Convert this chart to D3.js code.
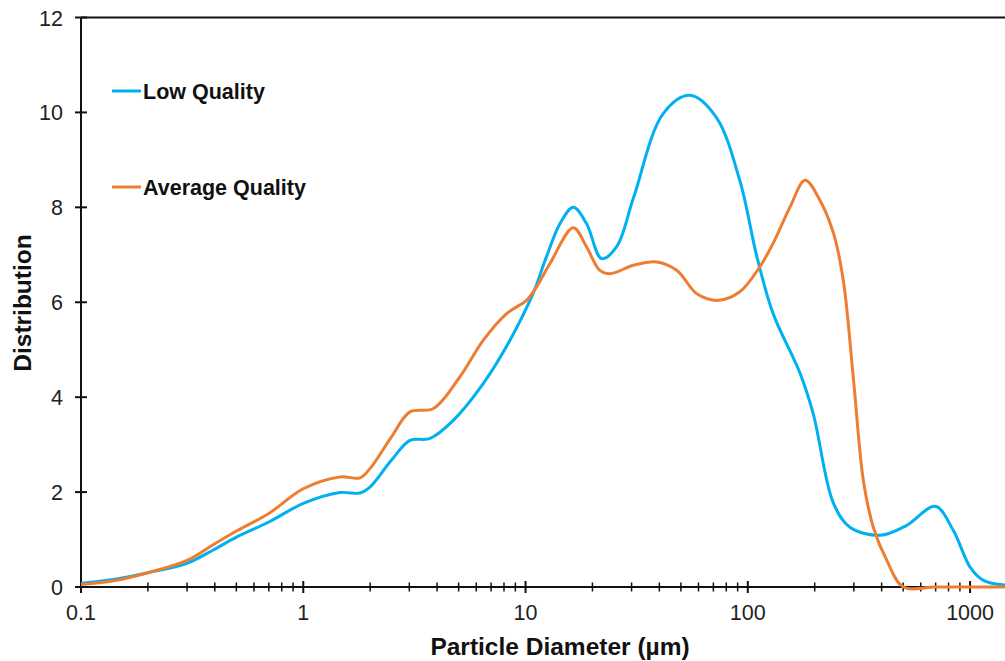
<!DOCTYPE html>
<html lang="en">
  <head>
    <meta charset="utf-8" />
    <title>Particle Size Distribution</title>
    <script src="https://d3js.org/d3.v7.min.js"></script>
    <style>
      body {
        margin: 0;
        background: #fff;
        font-family: "Liberation Sans", Arial, sans-serif;
      }

      .tick-label {
        font-size: 21.5px;
        fill: #222;
      }

      .axis-title {
        font-size: 24.5px;
        font-weight: bold;
        fill: #111;
      }

      .legend-label {
        font-size: 21.5px;
        font-weight: bold;
        fill: #111;
      }
    </style>
  </head>
  <body>
    <svg id="chart" width="1005" height="661"></svg>

    <script>
      // --------------------------------------------------
      // Data (particle diameter in µm, distribution)
      // --------------------------------------------------
      const lowSizes = [
        0.1, 0.14, 0.2, 0.3, 0.39, 0.5, 0.7, 1.0, 1.46, 1.8, 2.0, 2.49, 3.02,
        3.72, 4.73, 6.46, 8.51, 10.8, 12.4, 14.3, 16.4, 18.8, 22.0, 25.7, 30.6,
        41.7, 55, 72, 92, 110, 130, 172, 197, 243, 288, 394, 519, 697, 841,
        1000, 1148, 1436
      ];
      const lowValues = [
        0.08, 0.16, 0.3, 0.5, 0.77, 1.05, 1.37, 1.76, 1.99, 1.98, 2.11, 2.67,
        3.09, 3.13, 3.51, 4.29, 5.2, 6.18, 6.95, 7.66, 8.0, 7.66, 6.92, 7.17,
        8.2, 9.98, 10.36, 9.9, 8.57, 6.95, 5.76, 4.5, 3.65, 1.76, 1.26,
        1.09, 1.3, 1.7, 1.19, 0.42, 0.14, 0.04
      ];

      const avgSizes = [
        0.1, 0.14, 0.2, 0.3, 0.39, 0.5, 0.7, 1.0, 1.46, 1.8, 2.0, 2.49, 3.02,
        3.85, 5.07, 6.46, 8.22, 10.1, 11.2, 12.9, 16.4, 18.8, 21.6, 24, 30.6,
        39, 48, 59, 74, 92, 113, 130, 155, 181, 211, 243, 269, 299, 331, 367,
        422, 501, 700, 1000, 1436
      ];
      const avgValues = [
        0.05, 0.13, 0.3, 0.56, 0.88, 1.18, 1.55, 2.07, 2.32, 2.3, 2.5, 3.16,
        3.69, 3.76, 4.43, 5.2, 5.76, 6.04, 6.32, 6.82, 7.57, 7.17, 6.67, 6.6,
        6.78, 6.85, 6.67, 6.18, 6.04, 6.22, 6.74, 7.24, 8.01, 8.57, 8.15, 7.45,
        6.46, 4.36, 2.25, 1.26, 0.56, 0, 0, 0, 0
      ];

      const seriesNames = ["Low Quality", "Average Quality"];
      const seriesColors = ["#00B0F0", "#ED7D31"];

      const xMajorTicks = [0.1, 1, 10, 100, 1000];
      const xTickLabels = ["0.1", "1", "10", "100", "1000"];
      const yTicks = [0, 2, 4, 6, 8, 10, 12];

      // --------------------------------------------------
      // Scales
      // --------------------------------------------------
      const svg = d3.select("#chart");
      const plotLeft = 81,
        plotRight = 1005,
        plotTop = 17.5,
        plotBottom = 587;

      const x = d3.scaleLog().domain([0.1, 1436]).range([plotLeft, plotRight]);
      const y = d3.scaleLinear().domain([0, 12]).range([plotBottom, plotTop]);

      // minor ticks: 2..9 in each decade
      const xMinorTicks = [];
      [0.1, 1, 10, 100, 1000].forEach((d) => {
        for (let k = 2; k <= 9; k++) {
          const v = +(d * k).toPrecision(3);
          if (v < 1436) xMinorTicks.push(v);
        }
      });

      // --------------------------------------------------
      // Axes
      // --------------------------------------------------
      const axes = svg.append("g").attr("stroke", "#111").attr("stroke-width", 2);

      // top border
      axes.append("line")
        .attr("x1", plotLeft).attr("x2", plotRight)
        .attr("y1", plotTop).attr("y2", plotTop);
      // y axis
      axes.append("line")
        .attr("x1", plotLeft).attr("x2", plotLeft)
        .attr("y1", plotTop).attr("y2", plotBottom);
      // x axis
      axes.append("line")
        .attr("x1", plotLeft).attr("x2", plotRight)
        .attr("y1", plotBottom).attr("y2", plotBottom);

      axes.selectAll("line.ytick")
        .data(yTicks)
        .join("line")
        .attr("class", "ytick")
        .attr("x1", plotLeft - 6).attr("x2", plotLeft + 6)
        .attr("y1", (d) => y(d)).attr("y2", (d) => y(d));

      axes.selectAll("line.xmajor")
        .data(xMajorTicks)
        .join("line")
        .attr("class", "xmajor")
        .attr("x1", (d) => x(d)).attr("x2", (d) => x(d))
        .attr("y1", plotBottom - 6).attr("y2", plotBottom + 6);

      axes.selectAll("line.xminor")
        .data(xMinorTicks)
        .join("line")
        .attr("class", "xminor")
        .attr("stroke-width", 1.5)
        .attr("x1", (d) => x(d)).attr("x2", (d) => x(d))
        .attr("y1", plotBottom - 4.5).attr("y2", plotBottom + 4.5);

      svg.selectAll("text.ylab")
        .data(yTicks)
        .join("text")
        .attr("class", "tick-label ylab")
        .attr("x", 63)
        .attr("y", (d) => y(d) + 8)
        .attr("text-anchor", "end")
        .text((d) => d);

      svg.selectAll("text.xlab")
        .data(xMajorTicks)
        .join("text")
        .attr("class", "tick-label xlab")
        .attr("x", (d) => x(d))
        .attr("y", 620)
        .attr("text-anchor", "middle")
        .text((d, i) => xTickLabels[i]);

      svg.append("text")
        .attr("class", "axis-title")
        .attr("x", 560)
        .attr("y", 655)
        .attr("text-anchor", "middle")
        .text("Particle Diameter (µm)");

      svg.append("text")
        .attr("class", "axis-title")
        .attr("transform", "translate(31,303) rotate(-90)")
        .attr("text-anchor", "middle")
        .text("Distribution");

      // --------------------------------------------------
      // Lines
      // --------------------------------------------------
      const line = d3.line()
        .x((d) => x(d[0]))
        .y((d) => y(d[1]))
        .curve(d3.curveCatmullRom.alpha(0.5));

      const series = [
        d3.zip(lowSizes, lowValues),
        d3.zip(avgSizes, avgValues)
      ];

      svg.selectAll("path.series")
        .data(series)
        .join("path")
        .attr("class", "series")
        .attr("fill", "none")
        .attr("stroke", (d, i) => seriesColors[i])
        .attr("stroke-width", 3)
        .attr("stroke-linejoin", "round")
        .attr("d", line);

      // --------------------------------------------------
      // Legend
      // --------------------------------------------------
      const legendY = [91, 187];
      const legend = svg.selectAll("g.legend")
        .data(seriesNames)
        .join("g")
        .attr("class", "legend")
        .attr("transform", (d, i) => `translate(112,${legendY[i]})`);

      legend.append("line")
        .attr("x1", 0).attr("x2", 29)
        .attr("stroke", (d, i) => seriesColors[i])
        .attr("stroke-width", 3);

      legend.append("text")
        .attr("class", "legend-label")
        .attr("x", 31)
        .attr("y", 8)
        .text((d) => d);
    </script>
  </body>
</html>
